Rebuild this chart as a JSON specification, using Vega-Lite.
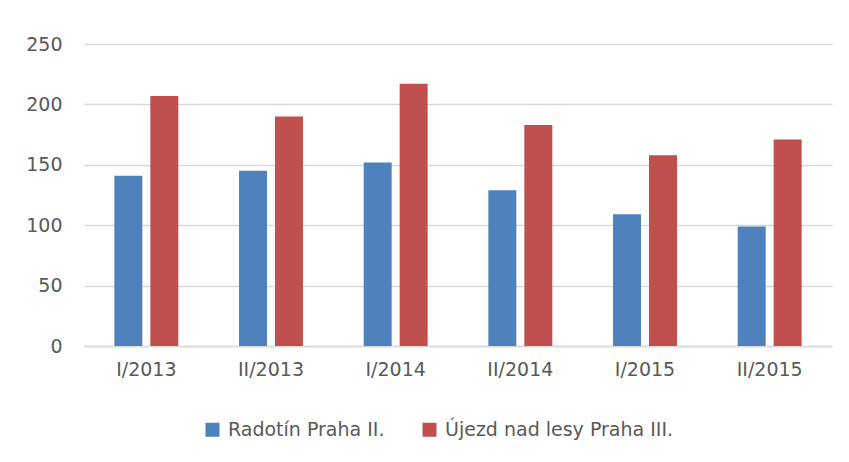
{
  "$schema": "https://vega.github.io/schema/vega-lite/v6.json",
  "width": 748,
  "height": 302,
  "autosize": "none",
  "padding": {"left": 84, "top": 44, "right": 17, "bottom": 116},
  "background": "white",
  "config": {
    "view": {"stroke": null},
    "font": "DejaVu Sans",
    "axis": {"labelFont": "DejaVu Sans", "labelColor": "#595959", "labelFontSize": 19, "grid": false, "ticks": false, "domain": false, "title": null},
    "legend": {"labelFont": "DejaVu Sans", "labelColor": "#595959", "labelFontSize": 19, "labelLimit": 0}
  },
  "data": {
    "values": [
      {"period": "I/2013", "series": "Radotín Praha II.", "value": 141},
      {"period": "I/2013", "series": "Újezd nad lesy Praha III.", "value": 207},
      {"period": "II/2013", "series": "Radotín Praha II.", "value": 145},
      {"period": "II/2013", "series": "Újezd nad lesy Praha III.", "value": 190},
      {"period": "I/2014", "series": "Radotín Praha II.", "value": 152},
      {"period": "I/2014", "series": "Újezd nad lesy Praha III.", "value": 217},
      {"period": "II/2014", "series": "Radotín Praha II.", "value": 129},
      {"period": "II/2014", "series": "Újezd nad lesy Praha III.", "value": 183},
      {"period": "I/2015", "series": "Radotín Praha II.", "value": 109},
      {"period": "I/2015", "series": "Újezd nad lesy Praha III.", "value": 158},
      {"period": "II/2015", "series": "Radotín Praha II.", "value": 99},
      {"period": "II/2015", "series": "Újezd nad lesy Praha III.", "value": 171}
    ]
  },
  "mark": {"type": "bar"},
  "encoding": {
    "x": {
      "field": "period", "type": "nominal", "sort": null,
      "scale": {"paddingInner": 0.487, "paddingOuter": 0.2435},
      "axis": {"labelAngle": 0, "labelPadding": 14, "domain": true, "domainColor": "#D9D9D9", "domainWidth": 1.5}
    },
    "xOffset": {
      "field": "series", "type": "nominal",
      "scale": {"paddingInner": 0.222, "paddingOuter": 0}
    },
    "y": {
      "field": "value", "type": "quantitative",
      "scale": {"domain": [0, 250]},
      "axis": {"values": [0, 50, 100, 150, 200, 250], "grid": true, "gridColor": "#D9D9D9", "gridWidth": 1.5, "labelPadding": 22}
    },
    "color": {
      "field": "series", "type": "nominal",
      "scale": {"domain": ["Radotín Praha II.", "Újezd nad lesy Praha III."], "range": ["#4F81BD", "#C0504D"]},
      "legend": {
        "title": null, "orient": "none", "direction": "horizontal",
        "legendX": 119, "legendY": 376,
        "symbolType": "square", "symbolSize": 196, "symbolStrokeWidth": 0,
        "labelOffset": 6, "columnPadding": 35
      }
    }
  }
}
